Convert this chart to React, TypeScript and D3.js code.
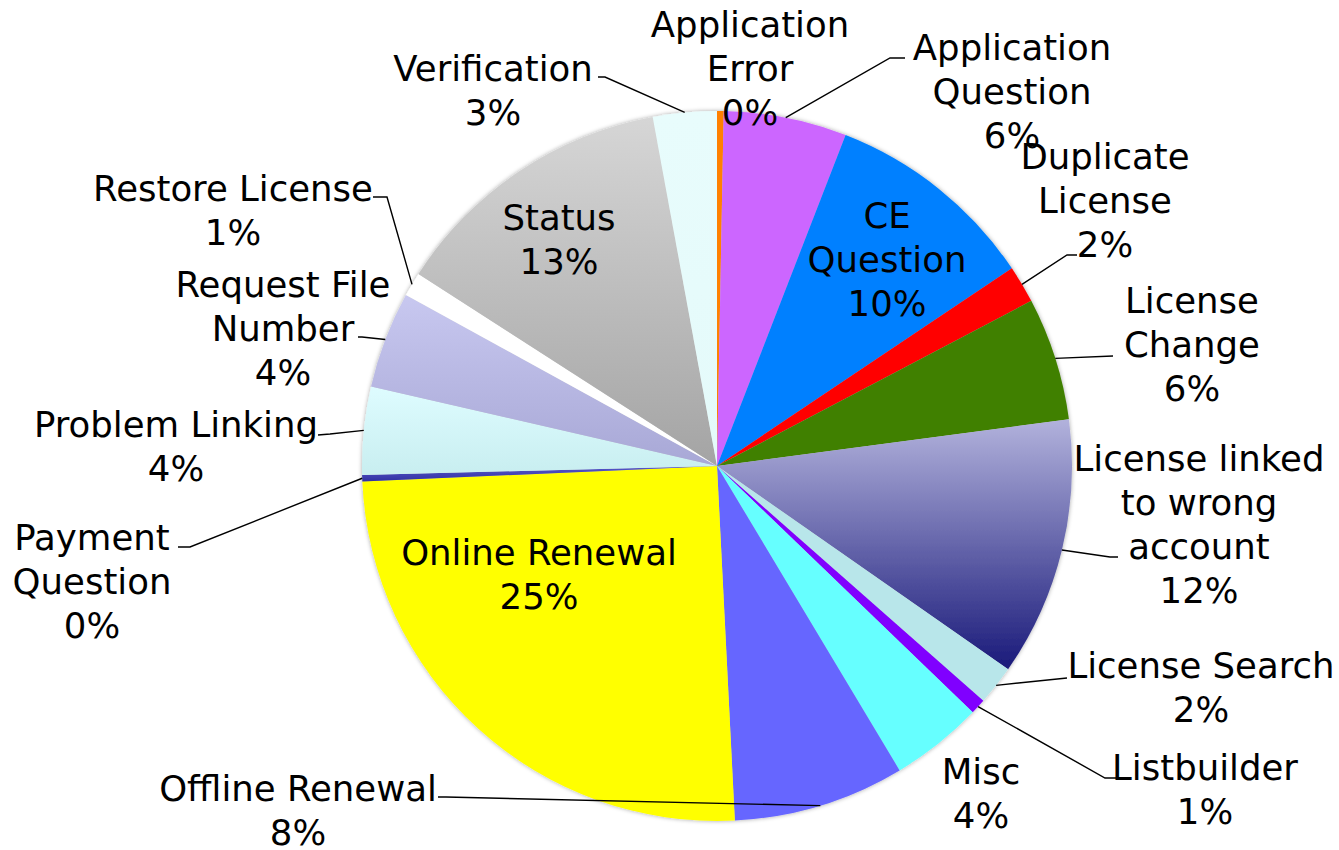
import React from "react";
import * as d3 from "d3";

const categories = [
  "Application Error",
  "Application Question",
  "CE Question",
  "Duplicate License",
  "License Change",
  "License linked to wrong account",
  "License Search",
  "Listbuilder",
  "Misc",
  "Offline Renewal",
  "Online Renewal",
  "Payment Question",
  "Problem Linking",
  "Request File Number",
  "Restore License",
  "Status",
  "Verification",
];
const values = [0.3, 5.6, 9.7, 1.7, 5.6, 11.8, 1.8, 0.7, 4.2, 7.8, 25.1, 0.3, 4.0, 4.4, 1.1, 13.0, 2.9];

// fill gradients: [top, bottom]
const fills: [string, string][] = [
  ["#ff8000", "#ff8000"],
  ["#cc66ff", "#cc66ff"],
  ["#0080ff", "#0080ff"],
  ["#ff0000", "#ff0000"],
  ["#408000", "#408000"],
  ["#b2b2dc", "#1a1a7a"],
  ["#b8e6ea", "#b8e6ea"],
  ["#8000ff", "#8000ff"],
  ["#66ffff", "#66ffff"],
  ["#6666ff", "#6666ff"],
  ["#ffff00", "#ffff00"],
  ["#5a5acc", "#3030a0"],
  ["#defcff", "#c8eef0"],
  ["#c8c8f0", "#a8a8d6"],
  ["#ffffff", "#ffffff"],
  ["#d6d6d6", "#a4a4a4"],
  ["#e8fcfc", "#e4fafa"],
];

// label layout: text lines (without percent), center x, first line center y, leader elbow & end
type LabelLayout = { lines: string[]; x: number; y: number; leader: [number, number][] | null };
const labelLayout: LabelLayout[] = [
  { lines: ["Application", "Error"], x: 750, y: 24, leader: null },
  { lines: ["Application", "Question"], x: 1012, y: 47, leader: [[890, 58], [905, 58]] },
  { lines: ["CE", "Question"], x: 887, y: 215, leader: null },
  { lines: ["Duplicate", "License"], x: 1105, y: 156, leader: [[1067, 255], [1077, 255]] },
  { lines: ["License", "Change"], x: 1192, y: 300, leader: [[1113, 356], [1113, 356]] },
  { lines: ["License linked", "to wrong", "account"], x: 1199, y: 458, leader: [[1110, 557], [1118, 557]] },
  { lines: ["License Search"], x: 1201, y: 665, leader: [[1067, 678], [1067, 678]] },
  { lines: ["Listbuilder"], x: 1205, y: 767, leader: [[1105, 778], [1117, 778]] },
  { lines: ["Misc"], x: 981, y: 771, leader: null },
  { lines: ["Offline Renewal"], x: 298, y: 788, leader: [[446, 797], [438, 797]] },
  { lines: ["Online Renewal"], x: 539, y: 552, leader: null },
  { lines: ["Payment", "Question"], x: 92, y: 537, leader: [[190, 547], [178, 547]] },
  { lines: ["Problem Linking"], x: 176, y: 424, leader: [[330, 434], [318, 435]] },
  { lines: ["Request File", "Number"], x: 283, y: 284, leader: [[362, 337], [358, 337]] },
  { lines: ["Restore License"], x: 233, y: 188, leader: [[387, 197], [373, 197]] },
  { lines: ["Status"], x: 559, y: 217, leader: null },
  { lines: ["Verification"], x: 493, y: 68, leader: [[605, 77], [598, 77]] },
];

const W = 1339;
const H = 850;
const CX = 717;
const CY = 466;
const R = 355;
const FONT = "'DejaVu Sans', sans-serif";
const FS = 35.5;
const LH = 44;

export default function App() {
  const data = categories.map((c, i) => ({ name: c, value: values[i], i }));
  const total = d3.sum(values);
  const pie = d3
    .pie<{ name: string; value: number; i: number }>()
    .value((d) => d.value)
    .sort(null)
    .startAngle(0)
    .endAngle(2 * Math.PI);
  const arcs = pie(data);
  const arc = d3
    .arc<d3.PieArcDatum<{ name: string; value: number; i: number }>>()
    .innerRadius(0)
    .outerRadius(R);

  const edgePoint = (a: d3.PieArcDatum<any>): [number, number] => {
    const m = (a.startAngle + a.endAngle) / 2;
    return [CX + R * Math.sin(m), CY - R * Math.cos(m)];
  };

  return (
    <svg
      width={W}
      height={H}
      style={{ position: "absolute", left: 0, top: 0, background: "#fff" }}
      fontFamily={FONT}
    >
      <defs>
        {fills.map((f, i) => (
          <linearGradient key={i} id={`g${i}`} x1="0" y1="0" x2="0" y2="1">
            <stop offset="0" stopColor={f[0]} />
            <stop offset="1" stopColor={f[1]} />
          </linearGradient>
        ))}
        <filter id="sh" x="-10%" y="-10%" width="120%" height="120%">
          <feGaussianBlur in="SourceAlpha" stdDeviation="2" />
          <feOffset dx="0" dy="0" result="b" />
          <feFlood floodColor="#000" floodOpacity="0.35" />
          <feComposite in2="b" operator="in" />
          <feMerge>
            <feMergeNode />
            <feMergeNode in="SourceGraphic" />
          </feMerge>
        </filter>
      </defs>
      <g transform={`translate(${CX},${CY})`} filter="url(#sh)">
        {arcs.map((a) => (
          <path key={a.data.i} d={arc(a) || ""} fill={`url(#g${a.data.i})`} stroke="none" />
        ))}
      </g>
      <g fill="none" stroke="#000" strokeWidth={1.4}>
        {arcs.map((a) => {
          const L = labelLayout[a.data.i];
          if (!L.leader) return null;
          const p0 = edgePoint(a);
          const pts = [p0, ...L.leader];
          return <path key={a.data.i} d={d3.line()(pts) || ""} />;
        })}
      </g>
      <g fill="#000" fontSize={FS} textAnchor="middle">
        {arcs.map((a) => {
          const L = labelLayout[a.data.i];
          const pct = Math.round((a.data.value / total) * 100) + "%";
          const lines = [...L.lines, pct];
          return (
            <g key={a.data.i}>
              {lines.map((t, k) => (
                <text key={k} x={L.x} y={L.y + k * LH} dominantBaseline="central">
                  {t}
                </text>
              ))}
            </g>
          );
        })}
      </g>
    </svg>
  );
}
